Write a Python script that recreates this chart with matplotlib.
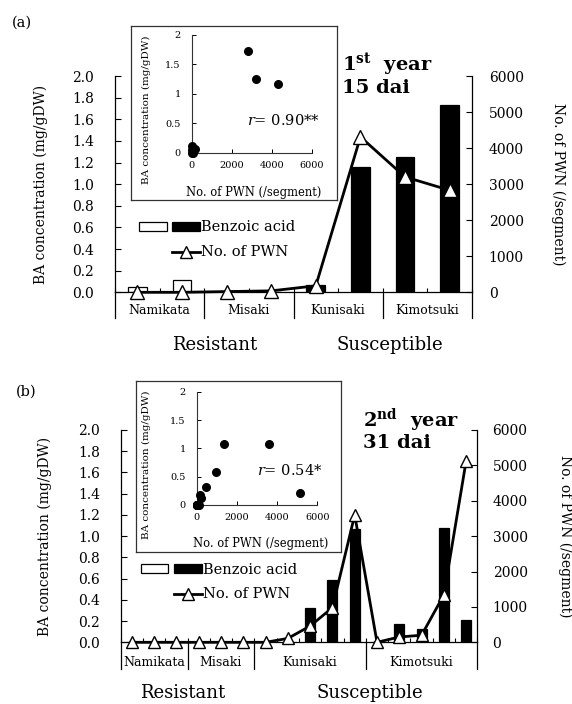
import matplotlib
matplotlib.use('Agg')
import matplotlib.pyplot as plt
from matplotlib.patches import Patch
from matplotlib.lines import Line2D
from matplotlib.legend_handler import HandlerTuple
import numpy as np

plt.rcParams['font.family'] = ['DejaVu Serif']
plt.rcParams['mathtext.fontset'] = 'dejavuserif'

# ---------------- data ----------------
groups = ['Namikata', 'Misaki', 'Kunisaki', 'Kimotsuki']

a_group_sizes = [2, 2, 2, 2]
a_ba = [0.05, 0.11, 0.0, 0.0, 0.07, 1.16, 1.25, 1.73]
a_pwn = [0, 0, 20, 40, 180, 4310, 3200, 2830]
a_r_text = '0.90**'

b_group_sizes = [3, 3, 5, 5]
b_ba = [0, 0, 0, 0, 0, 0, 0, 0, 0.32, 0.59, 1.07, 0, 0.17, 0.13, 1.08, 0.21]
b_pwn = [0, 0, 0, 0, 0, 0, 0, 110, 460, 980, 3600, 0, 150, 200, 1340, 5130]
b_r_text = '0.54*'

ba_ticks = [0.0, 0.2, 0.4, 0.6, 0.8, 1.0, 1.2, 1.4, 1.6, 1.8, 2.0]
pwn_ticks = [0, 1000, 2000, 3000, 4000, 5000, 6000]
inset_yticks = [0, 0.5, 1, 1.5, 2]
inset_ytick_labels = ['0', '0.5', '1', '1.5', '2']
inset_xticks = [0, 2000, 4000, 6000]

fig = plt.figure(figsize=(5.72, 7.04), dpi=100)


def draw_panel(main_rect, frame_rect, inset_rect, ba, pwn, sizes, bar_w, ms,
               box_depth, cat_y, leg_anchor, r_text, r_pos, lab_left_x,
               lab_right_x, inset_ylab, inset_xlab, left_pad, right_pad):
    n = len(ba)
    x = np.arange(n)
    n_res = sizes[0] + sizes[1]
    colors = ['white' if i < n_res else 'black' for i in range(n)]

    ax = fig.add_axes(main_rect)
    ax.bar(x, ba, width=bar_w, color=colors, edgecolor='black',
           linewidth=0.9, zorder=2)
    ax.set_xlim(-0.5, n - 0.5)
    ax.set_ylim(0, 2.0)
    ax.set_yticks(ba_ticks)
    ax.set_yticklabels(['%.1f' % v for v in ba_ticks])
    ax.set_xticks(np.arange(n + 1) - 0.5)
    ax.set_xticklabels([])
    ax.tick_params(axis='x', direction='in', length=3, width=0.8)
    ax.tick_params(axis='y', direction='in', length=4, width=0.8,
                   pad=left_pad, labelsize=10)
    for s in ['top', 'right']:
        ax.spines[s].set_visible(False)
    for s in ['left', 'bottom']:
        ax.spines[s].set_linewidth(0.9)
    ax.set_ylabel('BA concentration (mg/gDW)', fontsize=10, va='center')
    ax.yaxis.set_label_coords(lab_left_x, 0.5)

    # category boxes
    bounds = np.concatenate([[0], np.cumsum(sizes)]) - 0.5
    tr = ax.get_xaxis_transform()
    for b in bounds:
        ax.plot([b, b], [0, -box_depth], transform=tr, color='black',
                lw=0.9, clip_on=False)
    centers = (bounds[:-1] + bounds[1:]) / 2
    for c, g in zip(centers, groups):
        ax.text(c, cat_y, g, transform=tr, ha='center', va='center',
                fontsize=9)

    ax2 = ax.twinx()
    ax2.plot(x, pwn, color='black', lw=2, marker='^', ms=ms,
             mfc='white', mec='black', mew=1, clip_on=False, zorder=3)
    ax2.set_ylim(0, 6000)
    ax2.set_yticks(pwn_ticks)
    ax2.tick_params(axis='y', direction='in', length=4, width=0.8,
                    pad=right_pad, labelsize=10)
    for s in ['top', 'left', 'bottom']:
        ax2.spines[s].set_visible(False)
    ax2.spines['right'].set_linewidth(0.9)
    ax2.set_ylabel('No. of PWN (/segment)', fontsize=10, rotation=270,
                   va='center')
    ax2.yaxis.set_label_coords(lab_right_x, 0.5)

    white = Patch(facecolor='white', edgecolor='black', lw=0.9)
    black = Patch(facecolor='black', edgecolor='black', lw=0.9)
    blank = Patch(facecolor='none', edgecolor='none')
    line = Line2D([], [], color='black', lw=2, marker='^', ms=ms - 0.5,
                  mfc='white', mec='black', mew=1)
    ax2.legend(handles=[(white, black), (blank, line)],
               labels=['Benzoic acid', 'No. of PWN'],
               handler_map={tuple: HandlerTuple(ndivide=None, pad=0.4)},
               handlelength=4.2, handleheight=0.6, handletextpad=0.05,
               labelspacing=0.75, frameon=False, loc='center left',
               bbox_to_anchor=leg_anchor, borderaxespad=0, borderpad=0,
               fontsize=10.5)

    # inset frame
    fr = fig.add_axes(frame_rect)
    fr.set_xticks([])
    fr.set_yticks([])
    fr.set_facecolor('white')
    for s in fr.spines.values():
        s.set_linewidth(0.9)
        s.set_color('#333333')

    ai = fig.add_axes(inset_rect)
    ai.scatter(pwn, ba, s=30, color='black', zorder=3, clip_on=False)
    ai.set_xlim(0, 6000)
    ai.set_ylim(0, 2)
    ai.set_yticks(inset_yticks)
    ai.set_yticklabels(inset_ytick_labels)
    ai.set_xticks(inset_xticks)
    ai.tick_params(direction='in', length=3, width=0.7, labelsize=7)
    ai.tick_params(axis='y', pad=8)
    ai.tick_params(axis='x', pad=6)
    ai.patch.set_alpha(0)
    for s in ['top', 'right']:
        ai.spines[s].set_visible(False)
    for s in ['left', 'bottom']:
        ai.spines[s].set_linewidth(0.8)
        ai.spines[s].set_color('#333333')
    ai.set_ylabel('BA concentration (mg/gDW)', fontsize=7.5, va='center')
    ai.yaxis.set_label_coords(*inset_ylab)
    ai.set_xlabel('No. of PWN (/segment)', fontsize=8.3, va='center')
    ai.xaxis.set_label_coords(*inset_xlab)
    ai.text(r_pos[0], r_pos[1], r'$r$= ' + r_text, transform=ai.transAxes,
            fontsize=10.5, va='center', ha='left')
    return ax


# panel (a)
draw_panel(main_rect=[115 / 572, 1 - 292.3 / 704, 357 / 572, 216.3 / 704],
           frame_rect=[130.7 / 572, 1 - 199.5 / 704, 205.8 / 572, 173.5 / 704],
           inset_rect=[191.7 / 572, 1 - 152.7 / 704, 120.3 / 572, 118 / 704],
           ba=a_ba, pwn=a_pwn, sizes=a_group_sizes, bar_w=0.42, ms=9.5,
           box_depth=0.121, cat_y=-0.082, leg_anchor=(0.067, 0.242),
           r_text=a_r_text, r_pos=(0.457, 0.277),
           lab_left_x=(41 - 115) / 357, lab_right_x=(558 - 115) / 357,
           inset_ylab=((146 - 191.7) / 120.3, (152.7 - 110) / 118),
           inset_xlab=(0.512, -(192 - 152.7) / 118), left_pad=15,
           right_pad=12)

# panel (b)
draw_panel(main_rect=[120.7 / 572, 1 - 642.3 / 704, 356.6 / 572, 212.3 / 704],
           frame_rect=[135.7 / 572, 1 - 551.7 / 704, 205 / 572, 171 / 704],
           inset_rect=[196.7 / 572, 1 - 505 / 704, 120.6 / 572, 113.3 / 704],
           ba=b_ba, pwn=b_pwn, sizes=b_group_sizes, bar_w=0.45, ms=8.5,
           box_depth=0.127, cat_y=-0.093, leg_anchor=(0.056, 0.284),
           r_text=b_r_text, r_pos=(0.4975, 0.303),
           lab_left_x=(45 - 120.7) / 356.6, lab_right_x=(565 - 120.7) / 356.6,
           inset_ylab=((146 - 196.7) / 120.6, (505 - 465) / 113.3),
           inset_xlab=(0.527, -(543.3 - 505) / 113.3), left_pad=15,
           right_pad=11)

# titles and labels
fig.text(12 / 572, 1 - 23 / 704, '(a)', fontsize=10.5, va='center')
fig.text(16 / 572, 1 - 392 / 704, '(b)', fontsize=10.5, va='center')
fig.text(342 / 572, 1 - 65 / 704, r'1$^{\mathbf{st}}$  year', fontsize=14,
         fontweight='bold', va='center')
fig.text(342 / 572, 1 - 88 / 704, '15 dai', fontsize=14, fontweight='bold',
         va='center')
fig.text(362.7 / 572, 1 - 420 / 704, r'2$^{\mathbf{nd}}$  year', fontsize=14,
         fontweight='bold', va='center')
fig.text(362.7 / 572, 1 - 443 / 704, '31 dai', fontsize=14, fontweight='bold',
         va='center')

fig.text(215 / 572, 1 - 345 / 704, 'Resistant', fontsize=13, ha='center',
         va='center')
fig.text(390 / 572, 1 - 345 / 704, 'Susceptible', fontsize=13, ha='center',
         va='center')
fig.text(182.5 / 572, 1 - 693 / 704, 'Resistant', fontsize=13, ha='center',
         va='center')
fig.text(370 / 572, 1 - 693 / 704, 'Susceptible', fontsize=13, ha='center',
         va='center')

fig.savefig('out.png', dpi=100)
